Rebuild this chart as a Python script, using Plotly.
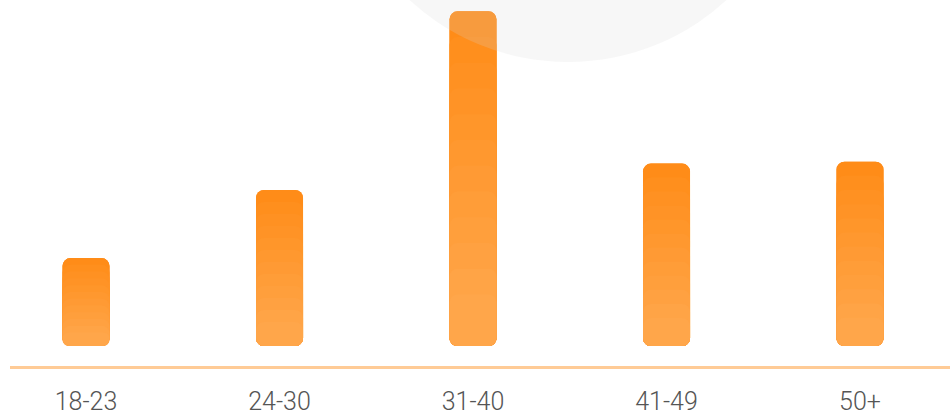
import plotly.graph_objects as go

categories = ["18-23", "24-30", "31-40", "41-49", "50+"]
values = [9.3, 16.5, 35.4, 19.3, 19.5]

TOP = (255, 138, 20)
BOTTOM = (255, 166, 74)
N = 12


def mix(t):
    return "rgb(%d,%d,%d)" % tuple(round(a + (b - a) * t) for a, b in zip(TOP, BOTTOM))


fig = go.Figure()

# top cap (rounded top)
fig.add_trace(go.Bar(
    x=categories, y=[v / 2 for v in values], base=[v / 2 for v in values],
    width=0.243, marker=dict(color=mix(0), cornerradius=8, line=dict(width=0)),
    hoverinfo="skip", showlegend=False,
))
# gradient layers growing downward (rounded bottom)
for k in range(1, N + 1):
    lv = [v * (1 - (k - 1) / (N + 1)) for v in values]
    fig.add_trace(go.Bar(
        x=categories, y=[-l for l in lv], base=lv,
        width=0.243, marker=dict(color=mix(k / N), cornerradius=8, line=dict(width=0)),
        hoverinfo="skip", showlegend=False,
    ))

fig.update_layout(
    width=950, height=416,
    margin=dict(l=0, r=0, t=0, b=70),
    paper_bgcolor="white", plot_bgcolor="white",
    barmode="overlay",
    showlegend=False,
    xaxis=dict(
        type="category", range=[-0.4445, 4.4651],
        showgrid=False, zeroline=False, showline=False, ticks="",
        tickfont=dict(family="Roboto", size=25, color="#555555", weight=300),
        ticklabelstandoff=38,
    ),
    yaxis=dict(range=[0, 36.6], visible=False, fixedrange=True),
    shapes=[
        dict(type="line", xref="paper", yref="paper",
             x0=10 / 950, x1=1, y0=(346 - 367.5) / 346, y1=(346 - 367.5) / 346,
             line=dict(color="#FFCB96", width=3), layer="above"),
        dict(type="circle", xref="paper", yref="paper",
             x0=334.4 / 950, x1=801.6 / 950,
             y0=(346 - 62) / 346, y1=(346 + 405) / 346,
             fillcolor="rgba(215,215,215,0.2)", line=dict(width=0), layer="above"),
    ],
)

fig.write_html(
    "out.html",
    config={"displayModeBar": False},
    post_script="document.body.style.margin='0';document.body.style.overflow='hidden';",
)
